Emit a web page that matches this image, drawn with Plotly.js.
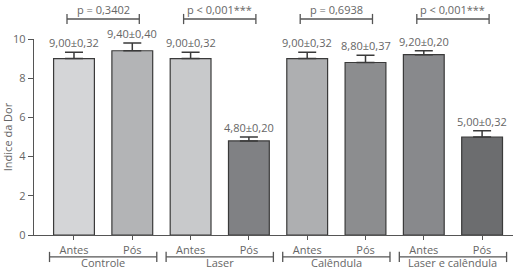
<!DOCTYPE html>
<html><head><meta charset="utf-8">
<script src="https://cdn.plot.ly/plotly-3.0.1.min.js"></script>
<style>html,body{margin:0;padding:0;background:#fff}</style>
</head><body><div id="chart" style="width:513px;height:270px"></div>
<script>
const groups = ["Controle", "Laser", "Calêndula", "Laser e calêndula"];
const moments = ["Antes", "Pós"];
const means = [9.00, 9.40, 9.00, 4.80, 9.00, 8.80, 9.20, 5.00];
const sems = [0.32, 0.40, 0.32, 0.20, 0.32, 0.37, 0.20, 0.32];
const pValues = ["p = 0,3402", "p < 0,001***", "p = 0,6938", "p < 0,001***"];
const barColors = ["#d4d5d7", "#b3b4b6", "#c8c9cb", "#808184", "#aeafb1", "#8c8d8f", "#88898c", "#6c6d6f"];

const fmt = v => v.toFixed(2).replace(".", ",");
const xs = means.map((_, i) => i);
const tickText = xs.map(i => moments[i % 2]);
const xr = [-0.686, 7.53];
const px = v => (v - xr[0]) / (xr[1] - xr[0]);
const TXT = "#666";
const LINE = "#555";
const FONT = "Open Sans, Lato, sans-serif";

const trace = {
  type: "bar", x: xs, y: means, width: 0.7,
  marker: {color: barColors, line: {color: "#3a3a3a", width: 1.2}},
  error_y: {type: "data", array: sems, arrayminus: sems.map(() => 0), symmetric: false,
            color: "#3a3a3a", thickness: 1.5, width: 9},
  hoverinfo: "none"
};

const annotations = [];
const shapes = [];
means.forEach((m, i) => {
  annotations.push({x: i, y: m + sems[i], xref: "x", yref: "y", xanchor: "center", yanchor: "bottom",
    text: fmt(m) + "±" + fmt(sems[i]), showarrow: false, yshift: 0,
    font: {size: 11, color: TXT, family: FONT}});
});
groups.forEach((g, k) => {
  const a = 2 * k, b = 2 * k + 1;
  // top p-value bracket
  const tl = px(a - 0.12), tr = px(b + 0.12), ty = 1.102;
  shapes.push({type: "line", xref: "paper", yref: "paper", x0: tl, x1: tr, y0: ty, y1: ty, line: {color: LINE, width: 1.3}});
  shapes.push({type: "line", xref: "paper", yref: "paper", x0: tl, x1: tl, y0: ty - 0.026, y1: ty + 0.026, line: {color: LINE, width: 1.3}});
  shapes.push({type: "line", xref: "paper", yref: "paper", x0: tr, x1: tr, y0: ty - 0.026, y1: ty + 0.026, line: {color: LINE, width: 1.3}});
  annotations.push({x: (tl + tr) / 2, y: 1.150, xref: "paper", yref: "paper", xanchor: "center", yanchor: "middle",
    text: pValues[k], showarrow: false, borderpad: 0, font: {size: 11, color: TXT, family: FONT}});
  // bottom group bracket
  const bl = px(a - 0.42), br = px(b + 0.42), by = -0.112;
  shapes.push({type: "line", xref: "paper", yref: "paper", x0: bl, x1: br, y0: by, y1: by, line: {color: LINE, width: 1.3}});
  shapes.push({type: "line", xref: "paper", yref: "paper", x0: bl, x1: bl, y0: by - 0.026, y1: by + 0.026, line: {color: LINE, width: 1.3}});
  shapes.push({type: "line", xref: "paper", yref: "paper", x0: br, x1: br, y0: by - 0.026, y1: by + 0.026, line: {color: LINE, width: 1.3}});
  annotations.push({x: (bl + br) / 2, y: -0.142, xref: "paper", yref: "paper", xanchor: "center", yanchor: "middle",
    text: g, showarrow: false, borderpad: 0, font: {size: 11, color: TXT, family: FONT}});
});

const layout = {
  width: 513, height: 270,
  margin: {l: 34, r: 0, t: 39, b: 35},
  paper_bgcolor: "#fff", plot_bgcolor: "#fff",
  showlegend: false,
  font: {family: FONT, color: TXT, size: 11},
  xaxis: {range: xr, tickvals: xs, ticktext: tickText, showgrid: false, zeroline: false,
          showline: true, linecolor: LINE, linewidth: 1.3, ticks: "outside", ticklen: 4,
          tickcolor: LINE, tickfont: {size: 11, color: TXT}, fixedrange: true},
  yaxis: {range: [0, 10], tickvals: [0, 2, 4, 6, 8, 10], showgrid: false, zeroline: false,
          showline: true, linecolor: LINE, linewidth: 1.3, ticks: "outside", ticklen: 5,
          tickcolor: LINE, tickfont: {size: 11, color: TXT},
          title: {text: "Indice da Dor", font: {size: 11, color: TXT}, standoff: 4}, fixedrange: true},
  annotations: annotations, shapes: shapes
};
Plotly.newPlot("chart", [trace], layout, {displayModeBar: false, staticPlot: true});
</script></body></html>
